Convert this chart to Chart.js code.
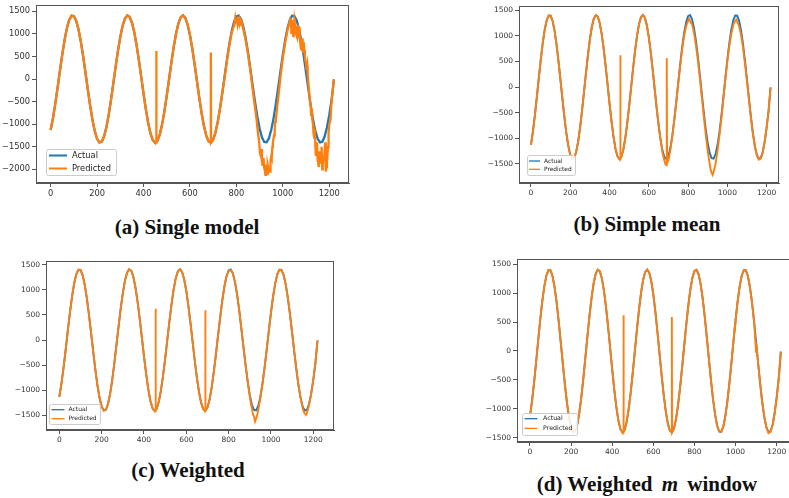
<!DOCTYPE html>
<html>
<head>
<meta charset="utf-8">
<script src="https://cdn.jsdelivr.net/npm/chart.js@4.4.0/dist/chart.umd.min.js"></script>
<style>
body{margin:0;background:#fff;width:789px;height:498px;overflow:hidden;position:relative;}
canvas{position:absolute;}
.cap{position:absolute;font-family:'Liberation Serif','Times New Roman',serif;font-weight:bold;font-size:21px;line-height:21px;color:#111;white-space:nowrap;transform:translateX(-50%);}
.cap i{margin:0 4px;}
</style>
</head>
<body>
<div class="cap" style="left:187px;top:217px">(a) Single model</div>
<div class="cap" style="left:647px;top:214px">(b) Simple mean</div>
<div class="cap" style="left:188px;top:460px">(c) Weighted</div>
<div class="cap" style="left:647px;top:474px">(d) Weighted <i>m</i> window</div>
<script>
// sample positions (time step)
var steps = [0,10,20,30,40,50,60,70,80,90,100,110,120,130,140,150,160,170,180,190,200,210,220,230,240,250,260,270,280,290,
  300,310,320,330,340,350,360,370,380,390,400,410,420,430,440,450,460,470,480,490,500,510,520,530,540,550,560,570,580,590,
  600,610,620,630,640,650,660,670,680,690,700,710,720,730,740,750,760,770,780,790,800,810,820,830,840,850,860,870,880,890,
  900,910,920,930,940,950,960,970,980,990,1000,1010,1020,1030,1040,1050,1060,1070,1080,1090,1100,1110,1120,1130,1140,1150,1160,1170,1180,1190,
  1200,1210,1220];

var actual = [-1130,-869,-549,-191,181,541,862,1124,1307,1400,
  1395,1293,1101,833,506,144,-227,-583,-899,-1151,
  -1324,-1405,-1388,-1274,-1072,-795,-462,-98,273,625,
  934,1178,1340,1408,1379,1253,1041,756,418,52,
  -319,-666,-968,-1203,-1353,-1410,-1368,-1231,-1009,-716,
  -374,-5,363,707,1002,1226,1365,1410,1356,1208,
  976,676,329,-41,-408,-747,-1033,-1248,-1376,-1409,
  -1343,-1184,-942,-635,-284,87,452,786,1065,1269,
  1386,1406,1328,1158,907,593,238,-133,-496,-824,
  -1094,-1289,-1393,-1401,-1312,-1131,-871,-551,-193,179,
  539,861,1122,1307,1400,1395,1294,1102,834,508,
  147,-225,-581,-897,-1150,-1324,-1405,-1388,-1275,-1073,
  -797,-465,-10];

// (a) single model
var predA = [-1130,-869,-549,-191,181,541,862,1124,1307,1400,
  1395,1293,1101,833,506,144,-227,-583,-899,-1151,
  -1324,-1405,-1388,-1274,-1072,-795,-462,-98,273,625,
  934,1178,1340,1408,1379,1253,1041,756,418,52,
  -319,-666,-968,-1203,-1353,-1410,-1368,-1231,-1009,-716,
  -374,-5,363,707,1002,1226,1365,1410,1356,1208,
  976,676,329,-41,-408,-747,-1033,-1248,-1376,-1409,
  -1343,-1184,-942,-635,-284,60,420,760,1030,1190,
  1320,1250,1300,1100,860,560,190,-230,-620,-1050,
  -1520,-1820,-1980,-2080,-1950,-1720,-1320,-880,-430,60,
  470,800,1080,1280,1150,1320,950,1150,650,820,
  350,-80,-600,-1000,-1450,-1800,-1600,-2000,-1650,-1850,
  -1000,-500,-10];
var extraAx = [454,455,456,689,690,691,
  795,797,802,805,807,812,815,817,
  882,887,892,897,902,905,907,912,915,917,922,925,927,932,935,937,942,945,947,952,955,957,962,965,967,972,
  1032,1035,1037,1042,1045,1047,1052,1055,1057,1062,1065,1067,1072,1075,1077,1082,1085,1087,1092,1095,1097,1102,1105,1107,
  1115,1122,1125,1127,1132,1135,1137,1142,1145,1147,1152,1155,1157,1162,1165,1167,1172,1175,1177,1182,1185,1187,1192,1195,1197,1205];
var extraAy = [-1395,620,-1400,-1409,590,-1409,
  1350,1280,1360,1230,1300,1200,1350,1330,
  -700,-900,-1150,-1350,-1650,-1700,-1550,-1900,-1900,-1750,-2000,-2120,-1900,-2100,-1900,-1950,-2050,-2050,-1800,-1750,-1500,-1400,-1250,-1150,-950,-800,
  1200,1350,1000,1300,950,1100,1250,1100,1000,1150,1200,900,1000,800,700,800,900,600,650,500,400,200,300,100,
  -400,-800,-650,-900,-1200,-1300,-1100,-1700,-1550,-1400,-1850,-1950,-1600,-1850,-1850,-1500,-1900,-1700,-1800,-1400,-2050,-1950,-1700,-1500,-1200,-900];

// (b) simple mean
var predB = [-1130,-869,-549,-191,181,541,862,1124,1307,1400,
  1395,1293,1101,833,506,144,-227,-583,-899,-1151,
  -1324,-1405,-1388,-1274,-1072,-795,-462,-98,273,625,
  934,1178,1340,1408,1379,1253,1041,756,418,52,
  -319,-666,-968,-1203,-1353,-1410,-1368,-1231,-1009,-716,
  -374,-5,363,707,1002,1226,1365,1410,1356,1208,
  976,676,329,-41,-408,-747,-1033,-1290,-1450,-1530,
  -1430,-1230,-960,-640,-290,70,420,740,1000,1190,
  1290,1300,1230,1060,820,520,180,-200,-570,-930,
  -1250,-1500,-1680,-1660,-1500,-1250,-940,-600,-220,160,
  500,800,1040,1210,1290,1280,1190,1010,760,450,
  110,-250,-600,-910,-1160,-1340,-1420,-1400,-1280,-1070,
  -790,-460,-10];
var extraBx = [454,455,456,685,691,692,693,695,795,805,815,915,925,935,1035,1045];
var extraBy = [-1395,620,-1400,-1510,-1520,570,-1480,-1470,1240,1340,1250,-1620,-1720,-1580,1260,1320];

// (c) weighted
var predC = [-1130,-869,-549,-191,181,541,862,1124,1307,1400,
  1395,1293,1101,833,506,144,-227,-583,-899,-1151,
  -1324,-1405,-1388,-1274,-1072,-795,-462,-98,273,625,
  934,1178,1340,1408,1379,1253,1041,756,418,52,
  -319,-666,-968,-1203,-1353,-1410,-1368,-1231,-1009,-716,
  -374,-5,363,707,1002,1226,1365,1410,1356,1208,
  976,676,329,-41,-408,-747,-1033,-1248,-1376,-1409,
  -1343,-1184,-942,-635,-284,87,452,786,1065,1269,
  1370,1390,1328,1158,907,593,238,-133,-496,-824,
  -1120,-1350,-1520,-1560,-1400,-1150,-871,-551,-193,179,
  539,861,1122,1307,1400,1395,1294,1102,834,508,
  147,-225,-581,-897,-1150,-1360,-1460,-1450,-1300,-1073,
  -797,-465,-10];
var extraCx = [454,455,456,689,690,691,905,915,925,935,1155,1165];
var extraCy = [-1395,620,-1400,-1409,590,-1409,-1270,-1480,-1620,-1500,-1430,-1490];

// (d) weighted m window
var predD = [-1130,-869,-549,-191,181,541,862,1124,1307,1400,
  1395,1293,1101,833,506,144,-227,-583,-899,-1151,
  -1324,-1405,-1388,-1274,-1072,-795,-462,-98,273,625,
  934,1178,1340,1408,1379,1253,1041,756,418,52,
  -319,-666,-968,-1203,-1353,-1410,-1368,-1231,-1009,-716,
  -374,-5,363,707,1002,1226,1365,1410,1356,1208,
  976,676,329,-41,-408,-747,-1033,-1248,-1376,-1409,
  -1343,-1184,-942,-635,-284,87,452,786,1065,1269,
  1386,1406,1328,1158,907,593,238,-133,-496,-824,
  -1094,-1289,-1393,-1401,-1312,-1131,-871,-551,-193,179,
  539,861,1122,1307,1400,1395,1294,1102,834,508,
  147,-225,-581,-897,-1150,-1324,-1420,-1400,-1275,-1073,
  -797,-465,-10];
var extraDx = [454,455,456,689,690,691,996,997,998,1098,1099];
var extraDy = [-1395,620,-1400,-1409,590,-1409,430,340,470,60,-30];

var xTicks = [0,200,400,600,800,1000,1200];
var yTicksA = [-2000,-1500,-1000,-500,0,500,1000,1500];
var yTicksB = [-1500,-1000,-500,0,500,1000,1500];

function pts(xv, yv, ex, ey) {
  var out = [];
  for (var i = 0; i < xv.length; i++) out.push({x: xv[i], y: yv[i]});
  if (ex) for (var j = 0; j < ex.length; j++) out.push({x: ex[j], y: ey[j]});
  out.sort(function(a, b){ return a.x - b.x; });
  return out;
}

var YW = 40, XH = 20, PAD = 10;

var frameLegend = {
  id: 'frameLegend',
  afterDraw: function(chart) {
    var ctx = chart.ctx, a = chart.chartArea;
    var o = chart.options.plugins.frameLegend;
    ctx.save();
    ctx.strokeStyle = '#555';
    ctx.lineWidth = 1;
    ctx.strokeRect(a.left + 0.5, a.top + 0.5, a.right - a.left - 1, a.bottom - a.top - 1);
    // legend box, lower left
    var bx = a.left + o.ox, by = a.bottom - o.ob - o.h;
    ctx.beginPath();
    if (ctx.roundRect) ctx.roundRect(bx + 0.5, by + 0.5, o.w, o.h, 2); else ctx.rect(bx + 0.5, by + 0.5, o.w, o.h);
    ctx.fillStyle = 'rgba(255,255,255,0.85)';
    ctx.fill();
    ctx.strokeStyle = '#ccc';
    ctx.stroke();
    var rows = [['Actual', '#1f77b4', o.r1], ['Predicted', '#ff7f0e', o.r2]];
    ctx.font = o.fs + 'px "DejaVu Sans"';
    ctx.textBaseline = 'middle';
    rows.forEach(function(r) {
      ctx.strokeStyle = r[1];
      ctx.lineWidth = o.lw;
      ctx.beginPath();
      ctx.moveTo(bx + o.l0, by + r[2]);
      ctx.lineTo(bx + o.l1, by + r[2]);
      ctx.stroke();
      ctx.fillStyle = '#222';
      ctx.fillText(r[0], bx + o.tx, by + r[2]);
    });
    ctx.restore();
  }
};

function makePanel(p) {
  var c = document.createElement('canvas');
  c.width = p.r - p.l + YW + PAD;
  c.height = p.b - p.t + PAD + XH;
  c.style.left = (p.l - YW) + 'px';
  c.style.top = (p.t - PAD) + 'px';
  document.body.appendChild(c);
  var tickFont = {family: 'DejaVu Sans', size: p.fs};
  new Chart(c, {
    type: 'line',
    data: {
      datasets: [
        {label: 'Predicted', data: pts(steps, p.pred, p.ex, p.ey), borderColor: '#ff7f0e', borderWidth: p.lw,
         pointRadius: 0, tension: 0, fill: false, order: 0},
        {label: 'Actual', data: pts(steps, actual), borderColor: '#1f77b4', borderWidth: p.lw,
         pointRadius: 0, tension: 0, fill: false, order: 1}
      ]
    },
    options: {
      responsive: false,
      animation: false,
      events: [],
      layout: {padding: {top: PAD, right: PAD, left: 0, bottom: 0}},
      plugins: {legend: {display: false}, tooltip: {enabled: false}, frameLegend: p.leg},
      scales: {
        x: {
          type: 'linear', min: p.xmin, max: p.xmax,
          afterBuildTicks: function(s){ s.ticks = xTicks.map(function(v){ return {value: v}; }); },
          afterFit: function(s){ s.height = XH; },
          grid: {drawOnChartArea: false, tickLength: 4, color: '#555'},
          border: {color: '#555'},
          ticks: {font: tickFont, color: '#333', padding: 2, maxRotation: 0, autoSkip: false,
                  callback: function(v){ return String(v); }}
        },
        y: {
          type: 'linear', min: p.ymin, max: p.ymax,
          afterBuildTicks: function(s){ s.ticks = p.yt.map(function(v){ return {value: v}; }); },
          afterFit: function(s){ s.width = YW; },
          grid: {drawOnChartArea: false, tickLength: 4, color: '#555'},
          border: {color: '#555'},
          ticks: {font: tickFont, color: '#333', padding: 2, autoSkip: false,
                  callback: function(v){ return String(v).replace('-', '\u2212'); }}
        }
      }
    },
    plugins: [frameLegend]
  });
}

makePanel({l: 36, t: 5, r: 349, b: 183, xmin: -63, xmax: 1285, ymin: -2303, ymax: 1640, yt: yTicksA, fs: 8.3, lw: 2.3,
  pred: predA, ex: extraAx, ey: extraAy,
  leg: {ox: 10, ob: 8, w: 70, h: 26, r1: 6.5, r2: 19.5, l0: 3, l1: 21, tx: 26, fs: 8.3, lw: 2}});
makePanel({l: 519, t: 6, r: 779, b: 183, xmin: -61, xmax: 1263, ymin: -1878, ymax: 1585, yt: yTicksB, fs: 7.5, lw: 1.9,
  pred: predB, ex: extraBx, ey: extraBy,
  leg: {ox: 8, ob: 8, w: 48, h: 20, r1: 6, r2: 14.3, l0: 2, l1: 13, tx: 17, fs: 5.9, lw: 1.3}});
makePanel({l: 46, t: 261, r: 334, b: 430, xmin: -63, xmax: 1298, ymin: -1792, ymax: 1573, yt: yTicksB, fs: 7.5, lw: 1.9,
  pred: predC, ex: extraCx, ey: extraCy,
  leg: {ox: 3, ob: 6, w: 51, h: 20, r1: 5.7, r2: 14.7, l0: 2.5, l1: 15.5, tx: 19.5, fs: 6, lw: 1.3}});
makePanel({l: 517, t: 259, r: 794, b: 442, xmin: -63, xmax: 1284, ymin: -1575, ymax: 1592, yt: yTicksB, fs: 7.5, lw: 1.9,
  pred: predD, ex: extraDx, ey: extraDy,
  leg: {ox: 5, ob: 7, w: 55, h: 22, r1: 5.7, r2: 15.4, l0: 2.5, l1: 15.5, tx: 21, fs: 6.3, lw: 1.3}});
</script>
</body>
</html>
